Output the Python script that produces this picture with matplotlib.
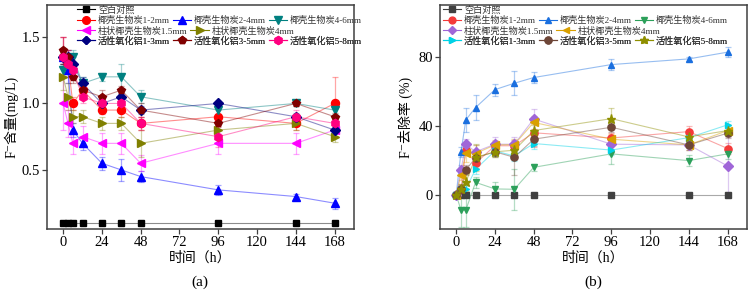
import matplotlib
matplotlib.use("Agg")
import matplotlib.pyplot as plt
import numpy as np

plt.rcParams['font.family'] = ['Liberation Serif', 'Noto Sans CJK SC', 'DejaVu Sans']
plt.rcParams['axes.unicode_minus'] = False

t = [0, 3, 6, 12, 24, 36, 48, 96, 144, 168]

labels = ['空白对照', '椰壳生物炭1-2mm', '椰壳生物炭2-4mm', '椰壳生物炭4-6mm',
          '柱状椰壳生物炭1.5mm', '柱状椰壳生物炭4mm',
          '活性氧化铝1-3mm', '活性氧化铝3-5mm', '活性氧化铝5-8mm']

# (a) F- concentration (mg/L)
conc = {
    '空白对照':        [0.1, 0.1, 0.1, 0.1, 0.1, 0.1, 0.1, 0.1, 0.1, 0.1],
    '椰壳生物炭1-2mm':  [1.35, 1.3, 1.0, 1.1, 0.95, 0.95, 0.85, 0.9, 0.85, 1.0],
    '椰壳生物炭2-4mm':  [1.35, 1.25, 0.8, 0.7, 0.55, 0.5, 0.45, 0.35, 0.3, 0.25],
    '椰壳生物炭4-6mm':  [1.25, 1.3, 1.35, 1.15, 1.2, 1.2, 1.05, 0.95, 1.0, 0.95],
    '柱状椰壳生物炭1.5mm': [1.0, 0.85, 0.7, 0.75, 0.7, 0.7, 0.55, 0.7, 0.7, 0.8],
    '柱状椰壳生物炭4mm': [1.2, 1.05, 0.9, 0.9, 0.85, 0.85, 0.7, 0.8, 0.85, 0.75],
    '活性氧化铝1-3mm':  [1.35, 1.35, 1.3, 1.15, 1.0, 1.05, 0.95, 1.0, 0.9, 0.8],
    '活性氧化铝3-5mm':  [1.4, 1.35, 1.2, 1.1, 1.05, 1.1, 0.95, 0.85, 1.0, 0.9],
    '活性氧化铝5-8mm':  [1.35, 1.3, 1.25, 1.05, 1.0, 1.0, 0.85, 0.75, 0.9, 0.85],
}
conc_err = {
    '空白对照':        [0, 0, 0, 0, 0, 0, 0, 0, 0, 0],
    '椰壳生物炭1-2mm':  [0.15, 0.05, 0.05, 0.05, 0.03, 0.05, 0.05, 0.05, 0.05, 0.2],
    '椰壳生物炭2-4mm':  [0.05, 0.1, 0.05, 0.05, 0.05, 0.08, 0.04, 0.04, 0.02, 0.04],
    '椰壳生物炭4-6mm':  [0.05, 0.05, 0.05, 0.05, 0.03, 0.1, 0.05, 0.03, 0.02, 0.03],
    '柱状椰壳生物炭1.5mm': [0.2, 0.1, 0.08, 0.08, 0.08, 0.08, 0.06, 0.08, 0.08, 0.05],
    '柱状椰壳生物炭4mm': [0.1, 0.1, 0.05, 0.05, 0.05, 0.05, 0.1, 0.05, 0.05, 0.04],
    '活性氧化铝1-3mm':  [0.05, 0.05, 0.05, 0.05, 0.03, 0.03, 0.03, 0.02, 0.03, 0.03],
    '活性氧化铝3-5mm':  [0.1, 0.05, 0.05, 0.05, 0.05, 0.03, 0.05, 0.03, 0.02, 0.03],
    '活性氧化铝5-8mm':  [0.15, 0.1, 0.05, 0.05, 0.03, 0.03, 0.05, 0.08, 0.05, 0.03],
}

# (b) F- removal rate (%)
rate = {
    '空白对照':        [0, 0, 0, 0, 0, 0, 0, 0, 0, 0],
    '椰壳生物炭1-2mm':  [0, 3.5, 26, 18.4, 28.5, 28.5, 36, 33, 36.7, 26.9],
    '椰壳生物炭2-4mm':  [0, 25, 43.5, 50.6, 61, 64.7, 68, 75.5, 78.8, 82.7],
    '椰壳生物炭4-6mm':  [0, -8.7, -8.7, 7.3, 3.5, 3.3, 16, 23.8, 19.9, 23.8],
    '柱状椰壳生物炭1.5mm': [0, 14.5, 29.4, 25, 29.4, 29.4, 44, 29.4, 29, 16.8],
    '柱状椰壳生物炭4mm': [0, 11.6, 24.3, 24, 29, 29.2, 42, 32.3, 29, 37.3],
    '活性氧化铝1-3mm':  [0, 3.5, 3.5, 14.9, 25.5, 22.6, 29.8, 26, 33.2, 40.6],
    '活性氧化铝3-5mm':  [0, 3.5, 14.5, 21.5, 25, 21.8, 32.3, 39.2, 29, 35.8],
    '活性氧化铝5-8mm':  [0, 3.5, 7.3, 21.8, 25, 25.9, 37.3, 44.2, 33.6, 37.3],
}
rate_err = {
    '空白对照':        [0, 0, 0, 0, 0, 0, 0, 0, 0, 0],
    '椰壳生物炭1-2mm':  [0, 2, 3, 3, 3, 3, 8, 3, 3, 3],
    '椰壳生物炭2-4mm':  [0, 3, 7, 7, 3.5, 7, 3, 3, 1, 3],
    '椰壳生物炭4-6mm':  [0, 10, 10, 3, 4, 12, 2, 6, 3, 3],
    '柱状椰壳生物炭1.5mm': [0, 3, 3, 4, 4, 4, 6, 3, 3, 17],
    '柱状椰壳生物炭4mm': [0, 3, 5, 5, 3, 3, 4, 3, 3, 3],
    '活性氧化铝1-3mm':  [0, 2, 2, 3, 3, 3, 3, 3, 3, 2],
    '活性氧化铝3-5mm':  [0, 3, 3, 3, 3, 10, 4, 3, 3, 3],
    '活性氧化铝5-8mm':  [0, 3, 5, 8, 3, 3, 3, 6, 3, 3],
}

x_ticks = [0, 24, 48, 72, 96, 120, 144, 168]

colors_a = ['#000000', '#FF0000', '#0000FF', '#008080', '#FF00FF', '#808000',
            '#000080', '#800000', '#FF0080']
markers_a = ['s', 'o', '^', 'v', '<', '>', 'D', 'p', 'h']
colors_b = ['#404040', '#F43A3A', '#1A6FDF', '#2CA05A', '#A066D8', '#D9A000',
            '#00D2E6', '#6E4638', '#8F8F00']
markers_b = ['s', 'o', '^', 'v', 'D', '<', '>', 'o', '*']

fig = plt.figure(figsize=(7.49, 2.95), dpi=100)
W, H = 749, 295
axa = fig.add_axes([47 / W, 1 - 229 / H, 307 / W, 224 / H])
axb = fig.add_axes([440 / W, 1 - 229 / H, 307 / W, 224 / H])


def draw(ax, data, err, colors, markers, ms_list):
    handles = []
    for i, lab in enumerate(labels):
        c = colors[i]
        ax.errorbar(t, data[lab], yerr=err[lab], fmt='none', ecolor=c, alpha=0.35,
                    elinewidth=0.9, capsize=2.5, capthick=0.9, zorder=2)
        ax.plot(t, data[lab], '-', color=c, alpha=0.45, lw=0.8, zorder=3)
        ax.plot(t, data[lab], linestyle='none', marker=markers[i], color=c,
                ms=ms_list[i], mec=c, zorder=4)
        h = plt.Line2D([], [], color=c, lw=0.8, marker=markers[i], ms=ms_list[i] * 0.95,
                       mec=c, mfc=c)
        handles.append(h)
    return handles


ms_a = [4.2, 5.8, 5.8, 5.8, 5.8, 5.8, 4.8, 6.0, 6.0]
ms_b = [3.8, 5.2, 5.0, 5.0, 4.8, 5.2, 5.0, 5.2, 6.5]
ha = draw(axa, conc, conc_err, colors_a, markers_a, ms_a)
hb = draw(axb, rate, rate_err, colors_b, markers_b, ms_b)


def style(ax):
    for s in ax.spines.values():
        s.set_color('#404040')
        s.set_linewidth(1.1)
    ax.tick_params(axis='both', which='both', direction='out', length=3.5,
                   width=0.9, color='#404040', labelsize=10.5, pad=1.5,
                   top=False, right=False)
    ax.set_xlim(-10, 180)
    ax.set_xticks(x_ticks)


style(axa)
style(axb)
axa.set_ylim(0.056, 1.74)
axa.set_yticks([0.5, 1.0, 1.5])
axa.set_yticklabels(['0.5', '1.0', '1.5'])
axb.set_ylim(-19.7, 110)
axb.set_yticks([0, 40, 80])

axa.set_xlabel('时间（h）', fontsize=10, labelpad=2)
axb.set_xlabel('时间（h）', fontsize=10, labelpad=2)
axa.set_ylabel('F⁻含量(mg/L)', fontsize=10, labelpad=2)
axb.set_ylabel('F⁻去除率 (%)', fontsize=10, labelpad=4)

fig.text(200 / W, 1 - 282 / H, '(a)', ha='center', va='center', fontsize=11)
fig.text(593 / W, 1 - 282 / H, '(b)', ha='center', va='center', fontsize=11)

rows = [[0], [1, 2, 3], [4, 5], [6, 7, 8]]
row_centers = [10, 20.5, 31, 41]


def add_legends(ax, handles, x0_px):
    bb = ax.get_position()
    for r, yc in zip(rows, row_centers):
        x_ax = (x0_px - bb.x0 * W) / (bb.width * W)
        y_ax = 1 - (yc - 5) / 224
        leg = ax.legend([handles[i] for i in r], [labels[i] for i in r],
                        loc='center left', bbox_to_anchor=(x_ax, y_ax),
                        ncol=len(r), frameon=False,
                        prop={'size': 6.6, 'weight': 'light'}, borderpad=0,
                        handlelength=2.0, handletextpad=0.3, columnspacing=0.3,
                        borderaxespad=0)
        for txt in leg.get_texts():
            txt.set_color('#333333')
        ax.add_artist(leg)


add_legends(axa, ha, 77)
add_legends(axb, hb, 443)

fig.savefig('out.png', dpi=100)
